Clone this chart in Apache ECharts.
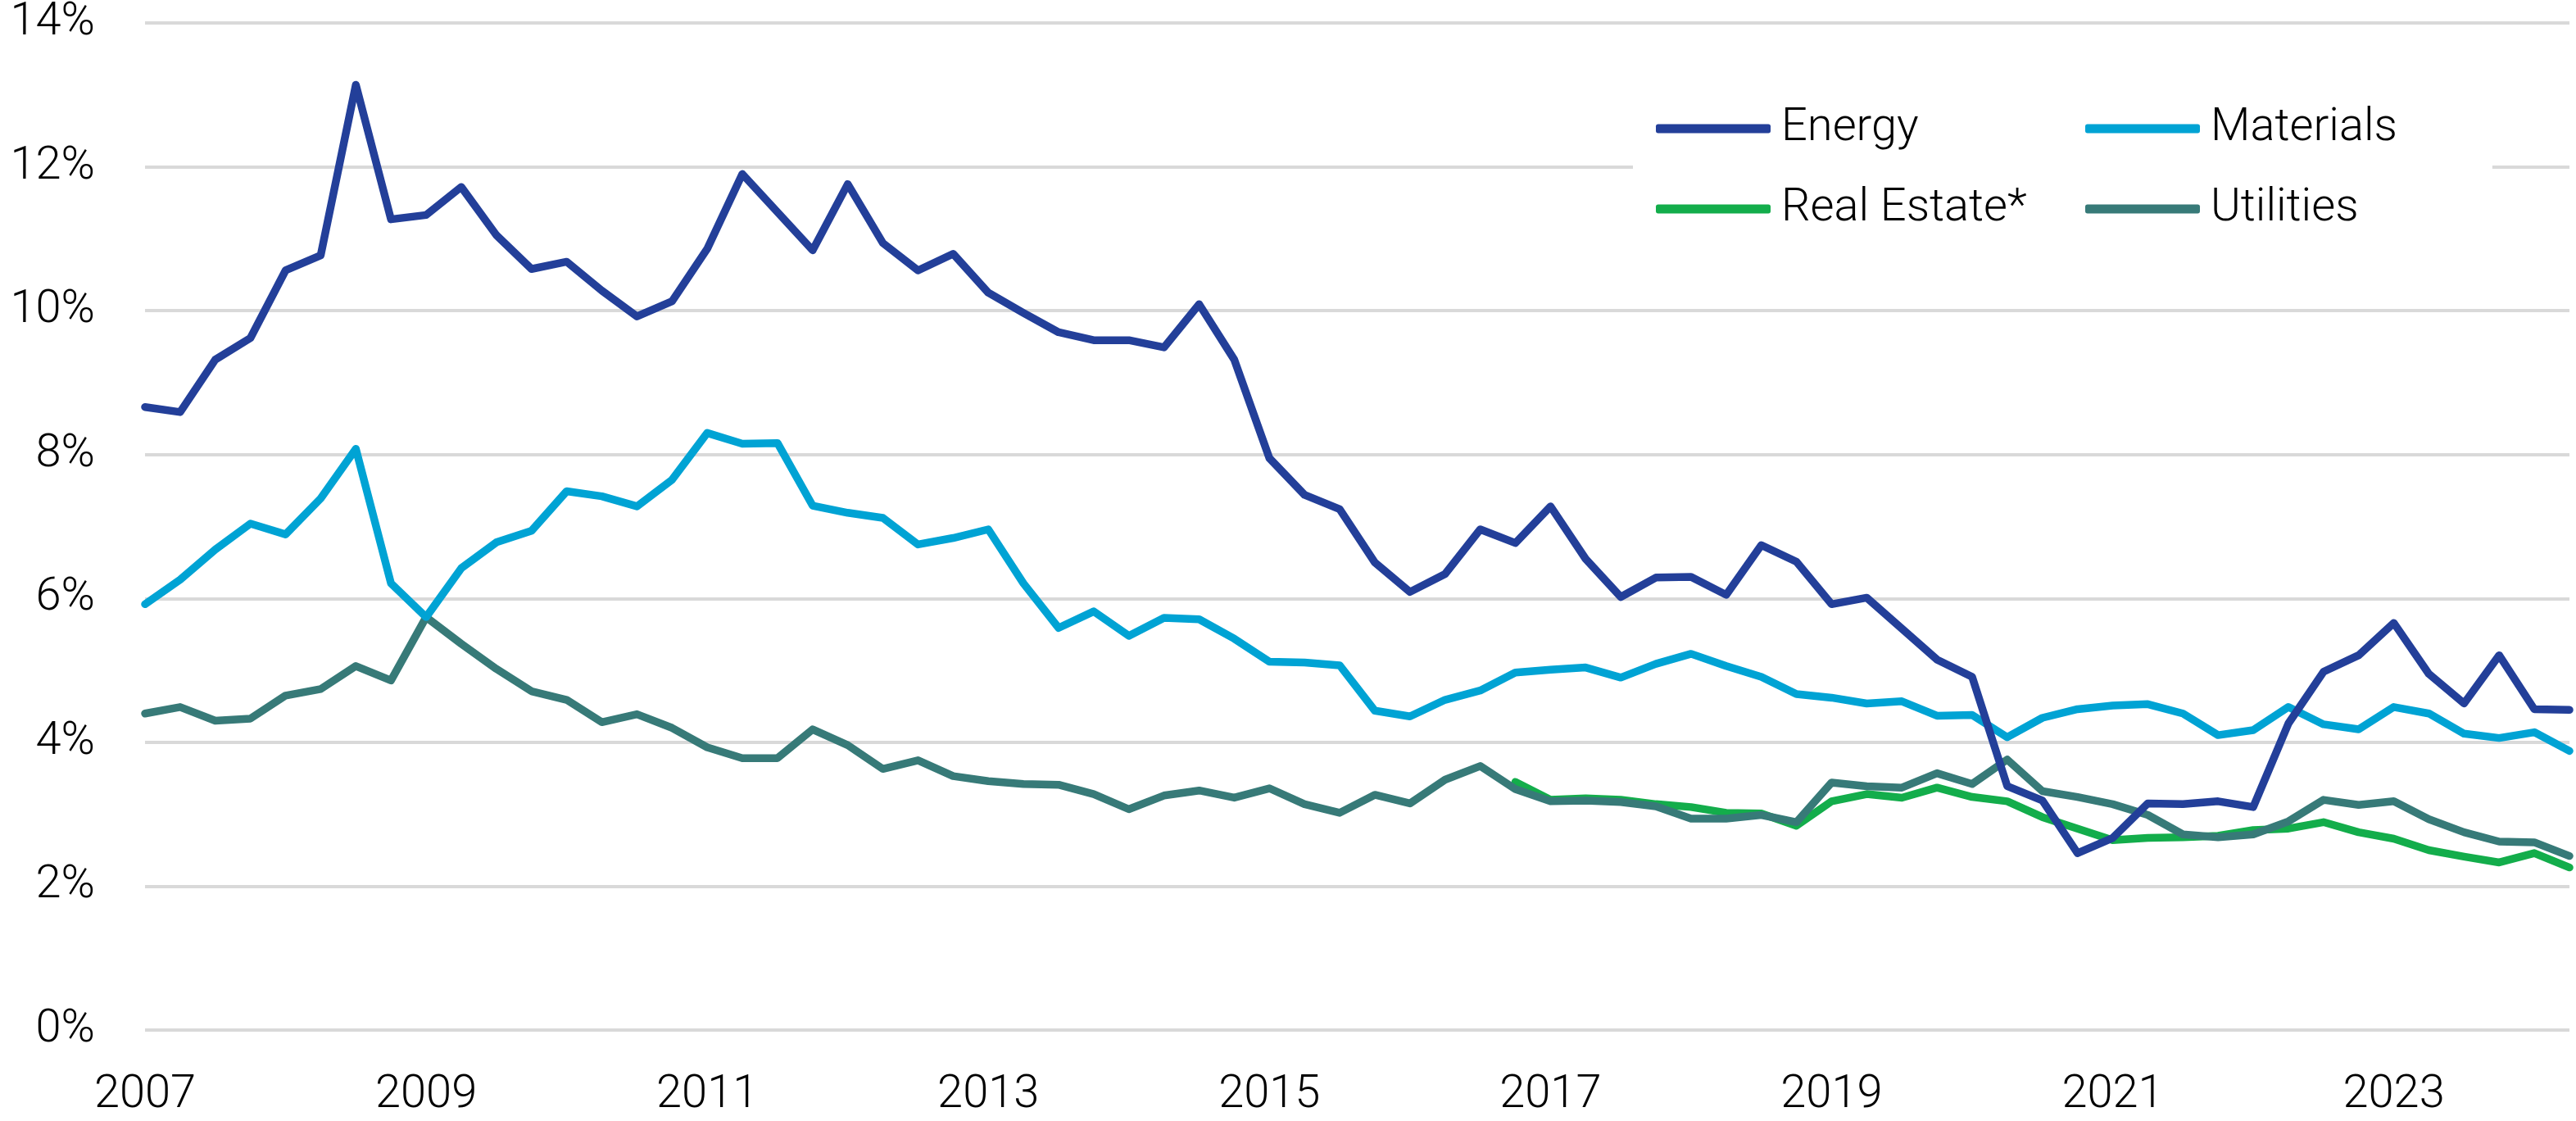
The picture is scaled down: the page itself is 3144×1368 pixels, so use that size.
<!DOCTYPE html>
<html>
<head>
<meta charset="utf-8">
<script src="https://cdn.jsdelivr.net/npm/echarts@6/dist/echarts.min.js"></script>
<style>
html,body{margin:0;padding:0;background:#fff;}
#chart{width:3144px;height:1368px;}
</style>
</head>
<body>
<div id="chart"></div>
<script>
const quarters = [
 '2007Q1','2007Q2','2007Q3','2007Q4','2008Q1','2008Q2','2008Q3','2008Q4',
 '2009Q1','2009Q2','2009Q3','2009Q4','2010Q1','2010Q2','2010Q3','2010Q4',
 '2011Q1','2011Q2','2011Q3','2011Q4','2012Q1','2012Q2','2012Q3','2012Q4',
 '2013Q1','2013Q2','2013Q3','2013Q4','2014Q1','2014Q2','2014Q3','2014Q4',
 '2015Q1','2015Q2','2015Q3','2015Q4','2016Q1','2016Q2','2016Q3','2016Q4',
 '2017Q1','2017Q2','2017Q3','2017Q4','2018Q1','2018Q2','2018Q3','2018Q4',
 '2019Q1','2019Q2','2019Q3','2019Q4','2020Q1','2020Q2','2020Q3','2020Q4',
 '2021Q1','2021Q2','2021Q3','2021Q4','2022Q1','2022Q2','2022Q3','2022Q4',
 '2023Q1','2023Q2','2023Q3','2023Q4','2024Q1','2024Q2'
];

const energy = [8.66, 8.59, 9.32, 9.62, 10.56, 10.77, 13.14, 11.27, 11.33, 11.72,
 11.05, 10.58, 10.68, 10.28, 9.92, 10.13, 10.86, 11.90, 11.37, 10.84,
 11.76, 10.94, 10.56, 10.79, 10.25, 9.97, 9.70, 9.59, 9.59, 9.49,
 10.09, 9.32, 7.95, 7.44, 7.24, 6.50, 6.09, 6.34, 6.96, 6.77,
 7.28, 6.55, 6.02, 6.29, 6.30, 6.05, 6.74, 6.51, 5.92, 6.01,
 5.58, 5.15, 4.91, 3.39, 3.19, 2.46, 2.67, 3.15, 3.14, 3.18,
 3.10, 4.26, 4.98, 5.21, 5.66, 4.95, 4.54, 5.21, 4.46, 4.45];

const materials = [5.92, 6.26, 6.68, 7.04, 6.89, 7.39, 8.08, 6.21, 5.74, 6.42,
 6.78, 6.94, 7.49, 7.42, 7.28, 7.65, 8.30, 8.15, 8.16, 7.29,
 7.19, 7.12, 6.75, 6.84, 6.96, 6.21, 5.59, 5.82, 5.48, 5.73,
 5.71, 5.44, 5.12, 5.11, 5.07, 4.44, 4.36, 4.59, 4.72, 4.97,
 5.01, 5.04, 4.90, 5.09, 5.23, 5.06, 4.91, 4.67, 4.62, 4.54,
 4.57, 4.37, 4.38, 4.07, 4.34, 4.46, 4.51, 4.53, 4.40, 4.10,
 4.17, 4.49, 4.25, 4.18, 4.49, 4.40, 4.12, 4.06, 4.14, 3.88];

const realEstate = [null, null, null, null, null, null, null, null, null, null,
 null, null, null, null, null, null, null, null, null, null,
 null, null, null, null, null, null, null, null, null, null,
 null, null, null, null, null, null, null, null, null, 3.45,
 3.20, 3.22, 3.20, 3.14, 3.10, 3.02, 3.01, 2.84, 3.18, 3.28,
 3.23, 3.37, 3.24, 3.18, 2.96, 2.80, 2.64, 2.67, 2.68, 2.70,
 2.78, 2.80, 2.89, 2.75, 2.66, 2.50, 2.41, 2.33, 2.46, 2.26];

const utilities = [4.40, 4.49, 4.30, 4.33, 4.65, 4.74, 5.06, 4.86, 5.74, 5.37,
 5.02, 4.71, 4.59, 4.28, 4.39, 4.20, 3.93, 3.78, 3.78, 4.18,
 3.96, 3.63, 3.75, 3.53, 3.46, 3.42, 3.41, 3.28, 3.07, 3.26,
 3.33, 3.23, 3.36, 3.14, 3.02, 3.27, 3.15, 3.48, 3.67, 3.35,
 3.18, 3.19, 3.17, 3.11, 2.94, 2.94, 2.99, 2.89, 3.44, 3.39,
 3.37, 3.57, 3.42, 3.76, 3.32, 3.24, 3.14, 2.99, 2.72, 2.68,
 2.72, 2.90, 3.20, 3.13, 3.18, 2.93, 2.75, 2.62, 2.61, 2.42];

const yTicks = {min: 0, max: 14, interval: 2};

const FONT = 'Roboto';
const chart = echarts.init(document.getElementById('chart'), null, {renderer: 'canvas'});

function mkSeries(name, data, color, z) {
  return {
    name: name, type: 'line', data: data, z: z,
    showSymbol: false, symbol: 'none', silent: true,
    lineStyle: {color: color, width: 9.5, join: 'round', cap: 'round'},
    itemStyle: {color: color},
    emphasis: {disabled: true}
  };
}

const legendCommon = {
  orient: 'vertical',
  top: 44,
  icon: 'roundRect',
  itemWidth: 140,
  itemHeight: 11,
  itemGap: 28,
  backgroundColor: '#ffffff',
  selectedMode: false,
  textStyle: {fontFamily: FONT, fontWeight: 300, fontSize: 56, color: '#000', lineHeight: 70, padding: [0, 0, 0, 8]}
};

chart.setOption({
  animation: false,
  backgroundColor: '#ffffff',
  grid: {left: 177, right: 8, top: 24, bottom: 111},
  legend: [
    Object.assign({}, legendCommon, {left: 1993, padding: [78, 80, 70, 28], data: ['Energy', 'Real Estate*']}),
    Object.assign({}, legendCommon, {left: 2517, padding: [78, 116, 70, 28], data: ['Materials', 'Utilities']})
  ],
  xAxis: {
    type: 'category',
    data: quarters,
    boundaryGap: false,
    axisLine: {show: false},
    axisTick: {show: false},
    splitLine: {show: false},
    axisLabel: {
      interval: 7,
      margin: 52,
      fontFamily: FONT, fontWeight: 300, fontSize: 56, color: '#000',
      formatter: function (v) { return v.slice(0, 4); }
    }
  },
  yAxis: {
    type: 'value',
    min: yTicks.min, max: yTicks.max, interval: yTicks.interval,
    axisLine: {show: false},
    axisTick: {show: false},
    splitLine: {lineStyle: {color: '#d9d9d9', width: 4}},
    axisLabel: {
      margin: 61,
      fontFamily: FONT, fontWeight: 300, fontSize: 56, color: '#000',
      formatter: '{value}%'
    }
  },
  series: [
    mkSeries('Energy', energy, '#233f99', 6),
    mkSeries('Materials', materials, '#00a3d4', 5),
    mkSeries('Real Estate*', realEstate, '#13ad4b', 3),
    mkSeries('Utilities', utilities, '#377a78', 4)
  ]
});
</script>
</body>
</html>
